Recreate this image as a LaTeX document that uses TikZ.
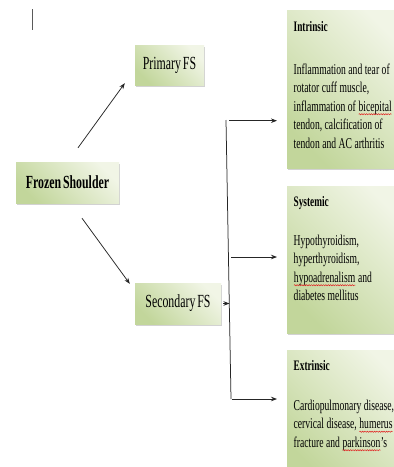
\documentclass[tikz,border=0pt]{standalone}
\usepackage{fontspec}
\setmainfont{Liberation Serif}
\newfontfamily\condfont[FakeStretch=0.64, WordSpace=0.64]{Liberation Serif}
\usetikzlibrary{arrows.meta, positioning, calc, shadows, decorations.pathmorphing}
\definecolor{boxgreen}{RGB}{194, 214, 155}
\definecolor{boxlight}{RGB}{241, 245, 230}
\definecolor{spellred}{RGB}{225, 30, 30}
\definecolor{cursorgray}{RGB}{90, 90, 90}
\newcommand\spellmark[1]{\tikz[baseline=(sw.base)]{%
    \node[anchor=base, inner sep=0pt, outer sep=0pt] (sw) {#1};
    \draw[spellred, line width=0.5pt, decorate, decoration={snake, amplitude=0.6pt, segment length=2.4pt}]
        ([yshift=-3.2pt]sw.base west) -- ([yshift=-3.2pt]sw.base east);}}

\begin{document}
\begin{tikzpicture}[x=1pt, y=-1pt,
    fsbox/.style={rectangle, inner sep=0pt, left color=boxgreen, right color=boxlight, shading angle=135,
        drop shadow={shadow xshift=0.6pt, shadow yshift=-1.6pt, opacity=0.35}},
    mainbox/.style={fsbox, minimum height=41pt, font=\condfont\fontsize{18.5}{22}\selectfont},
    causebox/.style={fsbox, anchor=north west, minimum width=120pt},
    causetext/.style={anchor=base west, inner sep=0pt, text width=120pt,
        font=\condfont\fontsize{15}{18.5}\selectfont,
        execute at begin node={\spaceskip=2.5pt plus 1pt minus 0.5pt\relax}},
    arr/.style={-{Stealth[length=6pt, width=4.5pt]}, line width=0.75pt, black!85}]
    \useasboundingbox (0,0) rectangle (394,467);
    \fill[white] (0,0) rectangle (394,467);
    \clip (0,0) rectangle (394,467);

    % stray cursor mark
    \draw[cursorgray, line width=1.6pt] (32.5,9) -- (32.5,30);

    % Main boxes
    \node[mainbox, minimum width=103pt, font=\condfont\bfseries\fontsize{18.5}{22}\selectfont] (frozen) at (67.5,182.5) {Frozen Shoulder};
    \node[mainbox, minimum width=69pt, minimum height=40pt] (primary) at (169.5,65) {Primary FS};
    \node[mainbox, minimum width=86pt] (secondary) at (178,303.5) {Secondary FS};

    % Cause boxes
    \node[causebox, minimum height=158pt] (intrinsic) at (287,10) {};
    \node[causebox, minimum height=147pt] (systemic) at (287,186) {};
    \node[causebox, minimum height=130pt] (extrinsic) at (287,350) {};

    \node[causetext] (intrinsictext) at ([xshift=6.5pt, yshift=-21.6pt]intrinsic.north west)
        {{\bfseries\fontsize{14.5}{18.5}\selectfont Intrinsic}\\[23.9pt]
         Inflammation and tear of\\ rotator cuff muscle,\\ inflammation of \spellmark{bicepital}\\
         tendon, calcification of\\ tendon and AC arthritis};
    \node[causetext] (systemictext) at ([xshift=6.5pt, yshift=-20.6pt]systemic.north west)
        {{\bfseries\fontsize{14.5}{18.5}\selectfont Systemic}\\[19.9pt]
         Hypothyroidism,\\ hyperthyroidism,\\ \spellmark{hypoadrenalism} and\\ diabetes mellitus};
    \node[causetext] (extrinsictext) at ([xshift=6.5pt, yshift=-20.6pt]extrinsic.north west)
        {{\bfseries\fontsize{14.5}{18.5}\selectfont Extrinsic}\\[20.9pt]
         Cardiopulmonary disease,\\ cervical disease, \spellmark{humerus}\\ fracture and \spellmark{parkinson}’s};

    % Frozen shoulder to its two kinds
    \draw[arr] ([xshift=10.5pt, yshift=14pt]frozen.north) -- ([xshift=-10pt, yshift=2pt]primary.south west);
    \draw[arr] ([xshift=14.5pt, yshift=-15pt]frozen.south) -- ([xshift=-5pt, yshift=-1pt]secondary.north west);

    % Branch line to the causes
    \coordinate (spinetop) at (226,120);
    \coordinate (spinebot) at (231,399);
    \coordinate (sjoin) at (229.5,303.5);
    \coordinate (b1) at (229,120.7);
    \coordinate (b2) at (231,257);
    \coordinate (b3) at (232,399);
    \draw[line width=0.75pt, black!85] (spinetop) -- (spinebot);
    \draw[arr, shorten <=2pt] (secondary.east) -- (sjoin);
    \draw[arr, shorten >=10pt] (b1) -- (b1 -| intrinsic.west);
    \draw[arr, shorten >=10pt] (b2) -- (b2 -| systemic.west);
    \draw[arr, shorten >=10pt] (b3) -- (b3 -| extrinsic.west);
\end{tikzpicture}
\end{document}
